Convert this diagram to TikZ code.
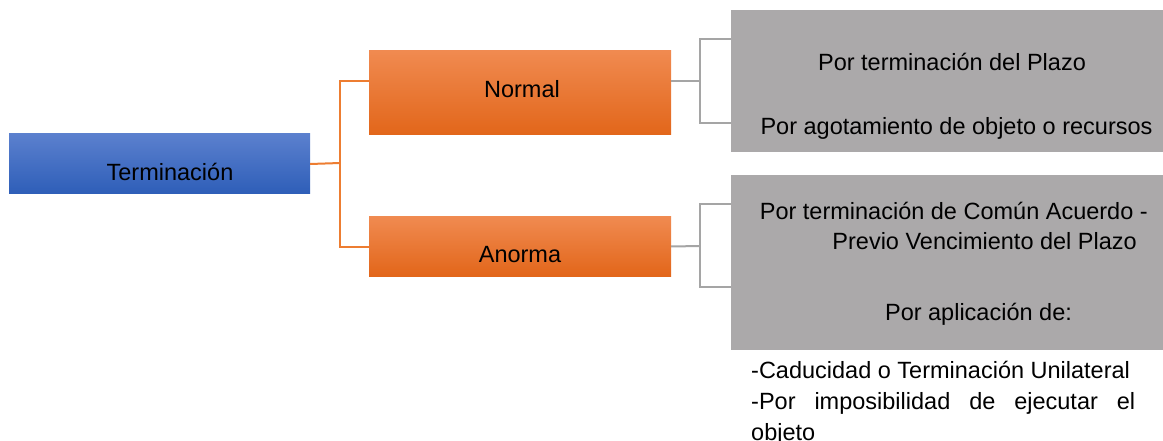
\documentclass[tikz,border=0pt]{standalone}
\usepackage{fontspec}
\setmainfont{Liberation Sans}
\usetikzlibrary{positioning}
\definecolor{rootTop}{RGB}{91,128,206}
\definecolor{rootBottom}{RGB}{46,94,184}
\definecolor{branchTop}{RGB}{240,138,80}
\definecolor{branchMid}{RGB}{243,122,40}
\definecolor{branchBottom}{RGB}{226,102,26}
\definecolor{leafGray}{RGB}{171,169,170}
\definecolor{lineOrange}{RGB}{237,125,49}
\definecolor{lineGray}{RGB}{165,165,165}
\tikzstyle{diagram} = [x=1pt, y=-1pt]
\tikzstyle{rootBox} = [rectangle, inner sep=0pt, minimum width=301pt, minimum height=60pt, top color=rootTop, bottom color=rootBottom]
\tikzstyle{branchBox} = [rectangle, inner sep=0pt, minimum width=302pt, top color=branchTop, middle color=branchMid, bottom color=branchBottom]
\tikzstyle{leafBox} = [rectangle, inner sep=0pt, fill=leafGray, minimum width=432pt]
\tikzstyle{boxText} = [inner sep=0pt, font=\fontsize{23.5}{28}\selectfont]
\tikzstyle{orangeLine} = [color=lineOrange, line width=2pt]
\tikzstyle{grayLine} = [color=lineGray, line width=2pt]
\begin{document}
\begin{tikzpicture}[diagram]
  \useasboundingbox (0,0) rectangle (1163,441);
  % boxes
  \node[rootBox] (root) at (159.5,164) {};
  \node[branchBox, minimum height=84pt] (normal) at (520,93) {};
  \node[branchBox, minimum height=59pt] (anorma) at (520,246.5) {};
  \node[leafBox, minimum height=83pt] (plazoBox) at (947,51.5) {};
  \node[leafBox, minimum height=59pt, below=0pt of plazoBox] (recursosBox) {};
  \node[leafBox, minimum height=83pt] (acuerdoBox) at (947,216.5) {};
  \node[leafBox, minimum height=92pt, below=0pt of acuerdoBox] (aplicacionBox) {};

  % texts
  \node[boxText, anchor=base] (rootLabel) at (170,181) {Terminación};
  \node[boxText, anchor=base] (normalLabel) at (522,98) {Normal};
  \node[boxText, anchor=base] (anormaLabel) at (520,262) {Anorma};
  \node[boxText, anchor=base] (plazoLabel) at (952,71) {Por terminación del Plazo};
  \node[boxText, anchor=base] (recursosLabel) at (956.5,135) {Por agotamiento de objeto o recursos};
  \node[boxText, anchor=base east] (acuerdoLabel) at (1148,220) {Por terminación de Común Acuerdo -};
  \node[boxText, anchor=base east] (vencimientoLabel) at (1137,250) {Previo Vencimiento del Plazo};
  \node[boxText, anchor=base] (aplicacionLabel) at (978.5,320) {Por aplicación de:};
  \node[boxText, anchor=north west, text width=384pt, align=justify,
        font={\fontsize{23.5}{31}\selectfont\hyphenpenalty=10000\relax}] (causalesText) at (751,361)
    {-Caducidad o Terminación Unilateral\\ -Por imposibilidad de ejecutar el\linebreak objeto};

  % connectors
  \coordinate (rootFork) at (340,163);
  \coordinate (normalFork) at (700,81);
  \coordinate (anormaFork) at (700,246);
  \draw[orangeLine] (root.east) -- (rootFork);
  \draw[orangeLine] ([yshift=12pt]normal.west) -| (rootFork) |- (anorma.west);
  \draw[grayLine] ([yshift=12pt]normal.east) -- (normalFork);
  \draw[grayLine] ([yshift=12.5pt]plazoBox.west) -| (normalFork) |- (recursosBox.west);
  \draw[grayLine] (anorma.east) -- (anormaFork);
  \draw[grayLine] ([yshift=12.5pt]acuerdoBox.west) -| (anormaFork) |- ([yshift=17pt]aplicacionBox.west);
\end{tikzpicture}
\end{document}
